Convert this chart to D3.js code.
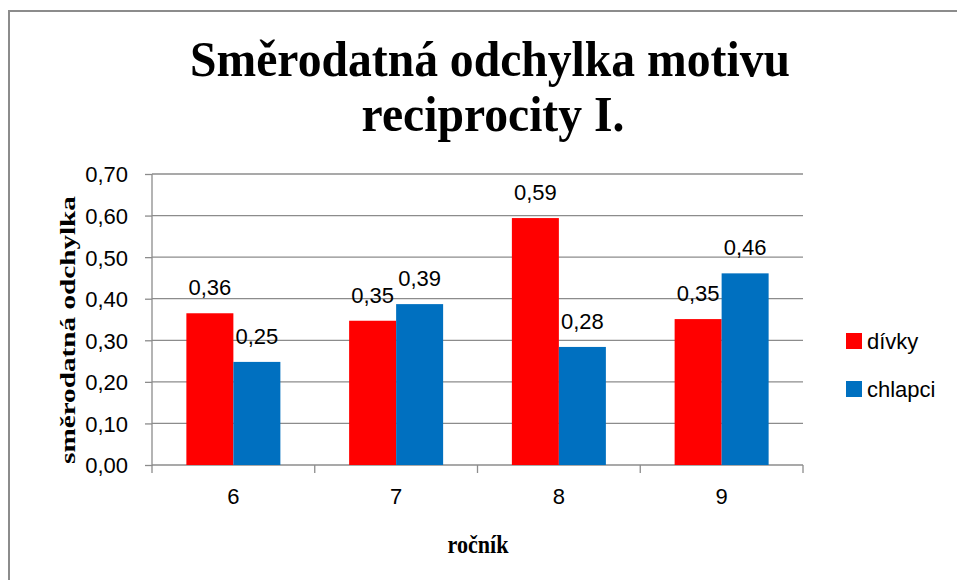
<!DOCTYPE html>
<html lang="en">
<head>
<meta charset="utf-8">
<script src="https://d3js.org/d3.v7.min.js"></script>
<style>
  body { margin: 0; background: white; }
  svg { display: block; font-family: 'Liberation Sans', Arial, sans-serif; }
  .grid line { stroke: #8c8c8c; stroke-width: 1.3px; }
  .axis path, .axis line { stroke: #8c8c8c; stroke-width: 1.3px; }
  .serif { font-family: 'Liberation Serif', 'Times New Roman', serif; font-weight: bold; }
</style>
</head>
<body>
<svg width="957" height="580"></svg>
<script>
// data
var grades = ["6", "7", "8", "9"];
var seriesNames = ["dívky", "chlapci"];
var divky = [0.365, 0.347, 0.594, 0.351];
var chlapci = [0.248, 0.387, 0.284, 0.461];
var labelsDivky = ["0,36", "0,35", "0,59", "0,35"];
var labelsChlapci = ["0,25", "0,39", "0,28", "0,46"];
var yTicks = [0, 0.1, 0.2, 0.3, 0.4, 0.5, 0.6, 0.7];
var colors = ["#ff0000", "#0070c0"];

var svg = d3.select("svg");

// outer frame
svg.append("path")
  .attr("d", "M9,582 L9,11 L960,11")
  .attr("fill", "none")
  .attr("stroke", "#8c8c8c")
  .attr("stroke-width", 2);

var plotL = 152, plotR = 803, plotT = 174, plotB = 465;

var x = d3.scaleBand().domain(grades).range([plotL, plotR]).paddingInner(0).paddingOuter(0);
var x1 = d3.scaleBand().domain(seriesNames).range([0, 94]);
var y = d3.scaleLinear().domain([0, 0.7]).range([plotB, plotT]);

// gridlines
svg.append("g").attr("class", "grid")
  .selectAll("line").data(yTicks.slice(1)).enter().append("line")
  .attr("x1", plotL).attr("x2", plotR)
  .attr("y1", d => y(d)).attr("y2", d => y(d));

// y axis
var yAxis = svg.append("g").attr("class", "axis")
  .attr("transform", "translate(" + plotL + ",0)")
  .call(d3.axisLeft(y).tickValues(yTicks).tickSize(7).tickPadding(17)
    .tickFormat(d => d3.format(".2f")(d).replace(".", ",")));
yAxis.select(".domain").attr("d", "M0," + (plotB + 1) + "V" + plotT);
yAxis.selectAll("text").attr("font-size", 22).attr("fill", "#000")
  .attr("font-family", "'Liberation Sans', Arial, sans-serif").attr("dy", "0.36em");

// x axis
var xAxis = svg.append("g").attr("class", "axis")
  .attr("transform", "translate(0," + plotB + ")")
  .call(d3.axisBottom(x).tickSize(0).tickPadding(23));
xAxis.select(".domain").attr("d", "M" + plotL + ",0H" + plotR);
xAxis.selectAll("text").attr("font-size", 22).attr("fill", "#000")
  .attr("font-family", "'Liberation Sans', Arial, sans-serif");
// boundary ticks between categories
xAxis.selectAll(".bt").data(grades.concat([""])).enter().append("line")
  .attr("class", "bt")
  .attr("x1", (d, i) => plotL + i * x.bandwidth())
  .attr("x2", (d, i) => plotL + i * x.bandwidth())
  .attr("y1", 0).attr("y2", 8)
  .attr("stroke", "#8c8c8c").attr("stroke-width", 1.3);

// bars
var series = [divky, chlapci];
var labels = [labelsDivky, labelsChlapci];
var groupOffset = (x.bandwidth() - 94) / 2;
series.forEach(function (vals, s) {
  var g = svg.append("g");
  g.selectAll("rect").data(vals).enter().append("rect")
    .attr("x", (d, i) => x(grades[i]) + groupOffset + x1(seriesNames[s]))
    .attr("width", x1.bandwidth())
    .attr("y", d => y(d))
    .attr("height", d => y(0) - y(d))
    .attr("fill", colors[s]);
  g.selectAll("text").data(vals).enter().append("text")
    .attr("x", (d, i) => x(grades[i]) + groupOffset + x1(seriesNames[s]) + x1.bandwidth() / 2)
    .attr("y", d => y(d) - 18)
    .attr("text-anchor", "middle")
    .attr("font-size", 22)
    .text((d, i) => labels[s][i]);
});

// title
var title = svg.append("g").attr("class", "serif").attr("font-size", 50);
var t1 = title.append("text").attr("text-anchor", "middle").text("Směrodatná odchylka motivu");
var t2 = title.append("text").attr("text-anchor", "middle").text("reciprocity I.");
var sx = 600 / t1.node().getComputedTextLength();
t1.attr("transform", "translate(490,76) scale(" + sx + ",1)");
t2.attr("transform", "translate(493,131) scale(" + sx + ",1)");

// axis titles
var yt = svg.append("text").attr("class", "serif").attr("font-size", 22)
  .attr("text-anchor", "middle").text("směrodatná odchylka");
var sy = 268 / yt.node().getComputedTextLength();
yt.attr("transform", "translate(75,330) rotate(-90) scale(" + sy + ",1)");

var xt = svg.append("text").attr("class", "serif").attr("font-size", 26)
  .attr("text-anchor", "middle").text("ročník");
xt.attr("transform", "translate(478,553) scale(0.85,1)");

// legend
var legend = svg.append("g").selectAll("g").data(seriesNames).enter().append("g")
  .attr("transform", (d, i) => "translate(846," + (333 + i * 48) + ")");
legend.append("rect").attr("width", 16).attr("height", 16).attr("fill", (d, i) => colors[i]);
legend.append("text").attr("x", 21).attr("y", 16).attr("font-size", 22).text(d => d);
</script>
</body>
</html>
